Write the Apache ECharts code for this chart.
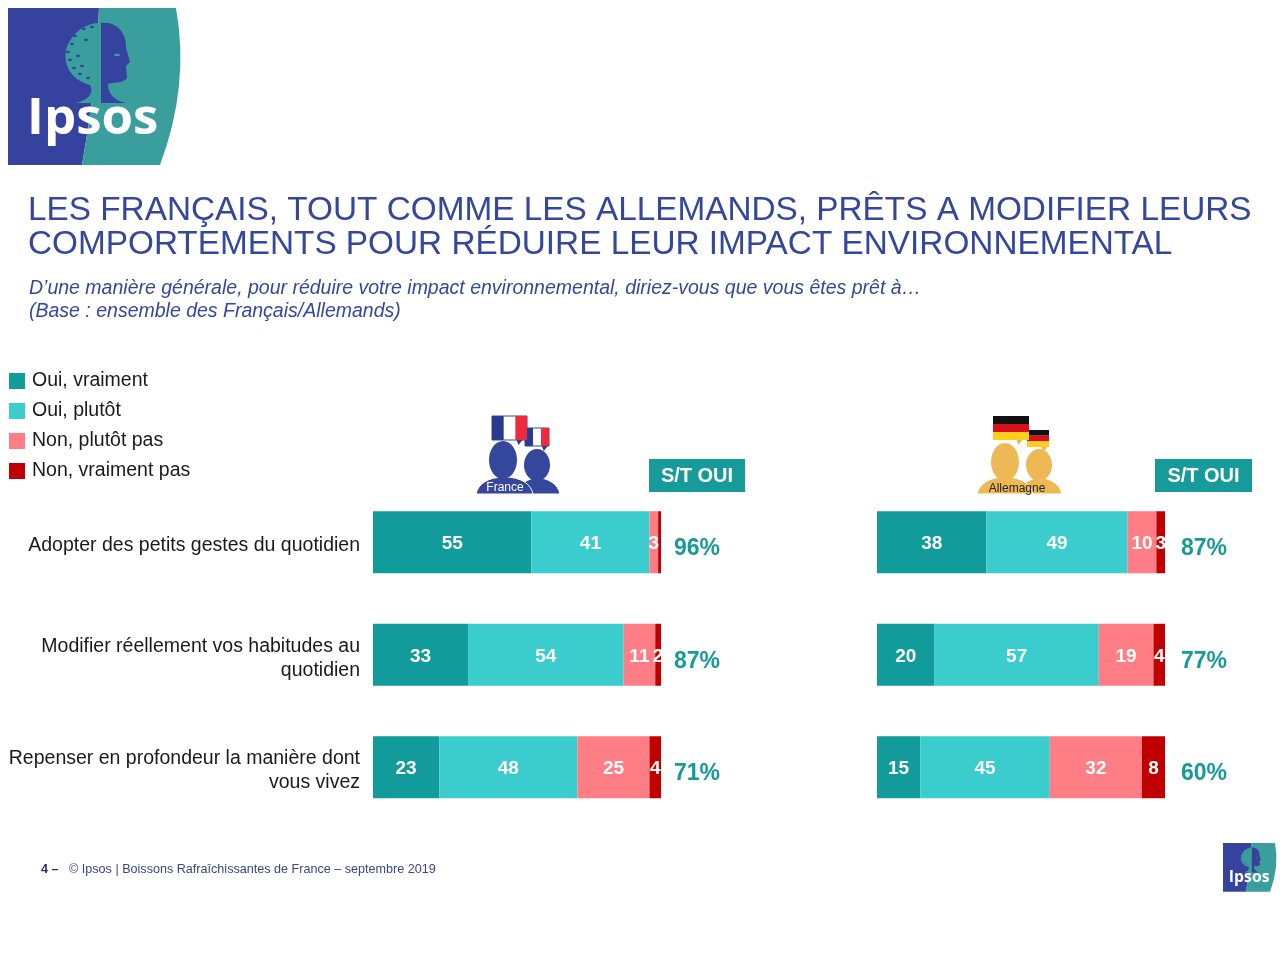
<!DOCTYPE html>
<html>
<head>
<meta charset="utf-8">
<style>html,body{margin:0;padding:0;background:#fff}#chart{width:1280px;height:960px}</style>
<script src="https://cdn.jsdelivr.net/npm/echarts@6/dist/echarts.min.js"></script>
</head>
<body>
<div id="chart"></div>
<script>
const categories = ['Adopter des petits gestes du quotidien', 'Modifier réellement vos habitudes au\nquotidien', 'Repenser en profondeur la manière dont\nvous vivez'];
const answers = ['Oui, vraiment', 'Oui, plutôt', 'Non, plutôt pas', 'Non, vraiment pas'];
const colors = ['#129b9b', '#3bcdcd', '#ff7d85', '#c00000'];

const franceOuiVraiment = [55, 33, 23];
const franceOuiPlutot = [41, 54, 48];
const franceNonPlutot = [3, 11, 25];
const franceNonVraiment = [1, 2, 4];
const franceTotals = ['96%', '87%', '71%'];

const allemagneOuiVraiment = [38, 20, 15];
const allemagneOuiPlutot = [49, 57, 45];
const allemagneNonPlutot = [10, 19, 32];
const allemagneNonVraiment = [3, 4, 8];
const allemagneTotals = ['87%', '77%', '60%'];

const FONT = '"Liberation Sans", Arial, sans-serif';
const NAVY = '#34479c';
const TEAL = '#169a9a';
const LOGO_BLUE = '#35439e';
const LOGO_TEAL = '#3a9f9c';

const chart = echarts.init(document.getElementById('chart'), null, { renderer: 'canvas' });

// graphic has no plain svg path type, so each path gets registered as its own shape
let pathCount = 0;
function svgPath(d, style) {
  const name = 'svgPath' + (pathCount++);
  echarts.graphic.registerShape(name, echarts.graphic.extendPath(d, {}));
  return { type: name, style: style };
}

function makeSeries(name, values, idx, gridIdx, hideLabel) {
  return {
    name: name,
    type: 'bar',
    stack: 'g' + gridIdx,
    xAxisIndex: gridIdx,
    yAxisIndex: gridIdx * 2,
    data: values,
    barWidth: 62,
    itemStyle: { color: colors[idx] },
    label: {
      show: true,
      position: 'inside',
      offset: [0, 2],
      color: '#fff',
      fontFamily: FONT,
      fontWeight: 'bold',
      fontSize: 19,
      formatter: p => (hideLabel && p.value === 1) ? '' : p.value
    }
  };
}

// padding does not move axis labels, a thin first line pushes them down instead
function pushedDown(value) {
  return '{gap| }\n' + value.split('\n').map(line => '{t|' + line + '}').join('\n');
}

function catAxis(gridIdx, data, isTotals) {
  const textStyle = isTotals
    ? { color: TEAL, fontFamily: FONT, fontWeight: 'bold', fontSize: 23, lineHeight: 26 }
    : { color: '#1a1a1a', fontFamily: FONT, fontSize: 19.5, lineHeight: 24 };
  return {
    type: 'category',
    gridIndex: gridIdx,
    inverse: true,
    position: isTotals ? 'right' : 'left',
    data: data,
    axisLine: { show: false },
    axisTick: { show: false },
    axisLabel: {
      margin: (isTotals && gridIdx === 1) ? 16 : 13,
      align: isTotals ? 'left' : 'right',
      formatter: pushedDown,
      rich: {
        gap: { fontSize: 1, lineHeight: isTotals ? 13 : 7 },
        t: textStyle
      }
    }
  };
}

// little marks on the edge of the tree, big logo coordinates
const treeSpecks = [[72, 44], [68, 52], [75, 36], [84, 29], [92, 27], [70, 60], [74, 68], [80, 74], [78, 56], [86, 40], [82, 66], [88, 78]];

// logo is drawn at its big size, the footer one is the same group scaled down
function logo(x, y, s) {
  return {
    type: 'group', x: x, y: y, scaleX: s, scaleY: s, silent: true,
    children: [
      svgPath('M8 8 L99 8 Q96 90 82 165 L8 165 Z', { fill: LOGO_BLUE }),
      svgPath('M99 8 L176 8 Q190 85 160 165 L82 165 Q96 90 99 8 Z', { fill: LOGO_TEAL }),
      svgPath('M101 23 C85 22 70 35 66 50 C63 66 72 80 90 85 C94 92 90 100 75 103 L101 103 Z', { fill: LOGO_TEAL }),
      ...treeSpecks.map(p => ({ type: 'ellipse', shape: { cx: p[0], cy: p[1], rx: 2, ry: 1.2 }, style: { fill: LOGO_BLUE } })),
      svgPath('M101 23 C118 21 127 35 126 48 L130 62 L126 66 L127 78 C122 84 113 82 108 84 C108 92 112 100 126 103 L101 103 Z', { fill: LOGO_BLUE }),
      { type: 'ellipse', shape: { cx: 117, cy: 55, rx: 3, ry: 1.2 }, style: { fill: LOGO_TEAL } },
      { type: 'text', x: 27, y: 94, style: { text: 'Ipsos', fill: '#fff', font: 'bold 51px "Open Sans", sans-serif' } }
    ]
  };
}

function person(cx, cy, rx, ry, left, right, top, fill) {
  const mid = (left + right) / 2;
  return [
    svgPath(`M${left} 494 C${left + 2} 484 ${left + 12} ${top} ${mid} ${top} C${right - 12} ${top} ${right - 2} 484 ${right} 494 Z`, { fill: fill, stroke: '#fff', lineWidth: 1 }),
    { type: 'ellipse', shape: { cx: cx, cy: cy, rx: rx, ry: ry }, style: { fill: fill } }
  ];
}

function tricolor(x, y, w, h) {
  return [
    svgPath(`M${x + w * 0.7} ${y + h} l2 5 l4 -5 Z`, { fill: '#2b3a8f' }),
    { type: 'rect', shape: { x: x, y: y, width: w, height: h }, style: { fill: '#fff', stroke: '#34479c', lineWidth: 1 } },
    { type: 'rect', shape: { x: x, y: y, width: w / 3, height: h }, style: { fill: '#2b3a8f' } },
    { type: 'rect', shape: { x: x + w * 2 / 3, y: y, width: w / 3, height: h }, style: { fill: '#ee2a3c' } }
  ];
}

function germanFlag(x, y, w, h) {
  return [
    svgPath(`M${x + w * 0.65} ${y + h} l2 5 l4 -5 Z`, { fill: '#eeb954' }),
    { type: 'rect', shape: { x: x, y: y, width: w, height: h / 3 }, style: { fill: '#111' } },
    { type: 'rect', shape: { x: x, y: y + h / 3, width: w, height: h / 3 }, style: { fill: '#d8101c' } },
    { type: 'rect', shape: { x: x, y: y + h * 2 / 3, width: w, height: h / 3 }, style: { fill: '#fdcf1c' } }
  ];
}

function stBox(x, width) {
  return [
    { type: 'rect', shape: { x: x, y: 459, width: width, height: 33 }, style: { fill: TEAL } },
    { type: 'text', x: x + width / 2, y: 476, style: { text: 'S/T OUI', fill: '#fff', font: 'bold 20px ' + FONT, align: 'center', verticalAlign: 'middle' } }
  ];
}

function txt(x, y, text, font, fill) {
  return { type: 'text', x: x, y: y, style: { text: text, font: font, fill: fill, verticalAlign: 'middle' } };
}

const decorations = [
  logo(0, 0, 1),
  logo(1220.5, 840.5, 0.31),
  txt(28, 211, 'LES FRANÇAIS, TOUT COMME LES ALLEMANDS, PRÊTS A MODIFIER LEURS', '33.35px ' + FONT, NAVY),
  txt(28, 245, 'COMPORTEMENTS POUR RÉDUIRE LEUR IMPACT ENVIRONNEMENTAL', '33.35px ' + FONT, NAVY),
  txt(29, 289, 'D’une manière générale, pour réduire votre impact environnemental, diriez-vous que vous êtes prêt à…', 'italic 19.5px ' + FONT, NAVY),
  txt(29, 312, '(Base : ensemble des Français/Allemands)', 'italic 19.5px ' + FONT, NAVY),
  txt(41, 870, '4 –', 'bold 12.6px ' + FONT, '#2b2f6e'),
  txt(69, 870, '© Ipsos | Boissons Rafraîchissantes de France – septembre 2019', '12.6px ' + FONT, '#3c4488'),
  ...tricolor(525, 428, 24, 18),
  ...tricolor(492, 416, 35, 24),
  ...person(537, 465, 13, 16, 516, 560, 478, '#35479c'),
  ...person(503, 460, 14, 19, 476, 533, 477, '#35479c'),
  { type: 'text', x: 505, y: 488, style: { text: 'France', font: '12px ' + FONT, fill: '#fff', align: 'center', verticalAlign: 'middle' } },
  ...germanFlag(1027, 430, 22, 17),
  ...germanFlag(993, 416, 36, 24),
  ...person(1039, 465, 13, 16, 1018, 1062, 478, '#eeb954'),
  ...person(1005, 462, 14, 19, 977, 1033, 477, '#eeb954'),
  { type: 'text', x: 1017, y: 489, style: { text: 'Allemagne', font: '12px ' + FONT, fill: '#222', align: 'center', verticalAlign: 'middle' } },
  ...stBox(649, 96),
  ...stBox(1155, 97)
];

chart.setOption({
  animation: false,
  backgroundColor: '#fff',
  legend: {
    data: answers,
    orient: 'vertical',
    left: 4,
    top: 365,
    itemWidth: 16,
    itemHeight: 16,
    itemGap: 8,
    icon: 'rect',
    selectedMode: false,
    textStyle: { color: '#1a1a1a', fontFamily: FONT, fontSize: 19.5, padding: [0, 0, 0, 2], lineHeight: 22 }
  },
  grid: [
    { left: 373, top: 486, width: 288, height: 337.5 },
    { left: 877, top: 486, width: 288, height: 337.5 }
  ],
  xAxis: [
    { type: 'value', gridIndex: 0, min: 0, max: 100, show: false },
    { type: 'value', gridIndex: 1, min: 0, max: 100, show: false }
  ],
  yAxis: [
    catAxis(0, categories, false),
    catAxis(0, franceTotals, true),
    { ...catAxis(1, categories, false), axisLabel: { show: false } },
    catAxis(1, allemagneTotals, true)
  ],
  series: [
    makeSeries(answers[0], franceOuiVraiment, 0, 0),
    makeSeries(answers[1], franceOuiPlutot, 1, 0),
    makeSeries(answers[2], franceNonPlutot, 2, 0),
    makeSeries(answers[3], franceNonVraiment, 3, 0, true),
    makeSeries(answers[0], allemagneOuiVraiment, 0, 1),
    makeSeries(answers[1], allemagneOuiPlutot, 1, 1),
    makeSeries(answers[2], allemagneNonPlutot, 2, 1),
    makeSeries(answers[3], allemagneNonVraiment, 3, 1)
  ],
  graphic: { elements: decorations }
});
</script>
</body>
</html>
